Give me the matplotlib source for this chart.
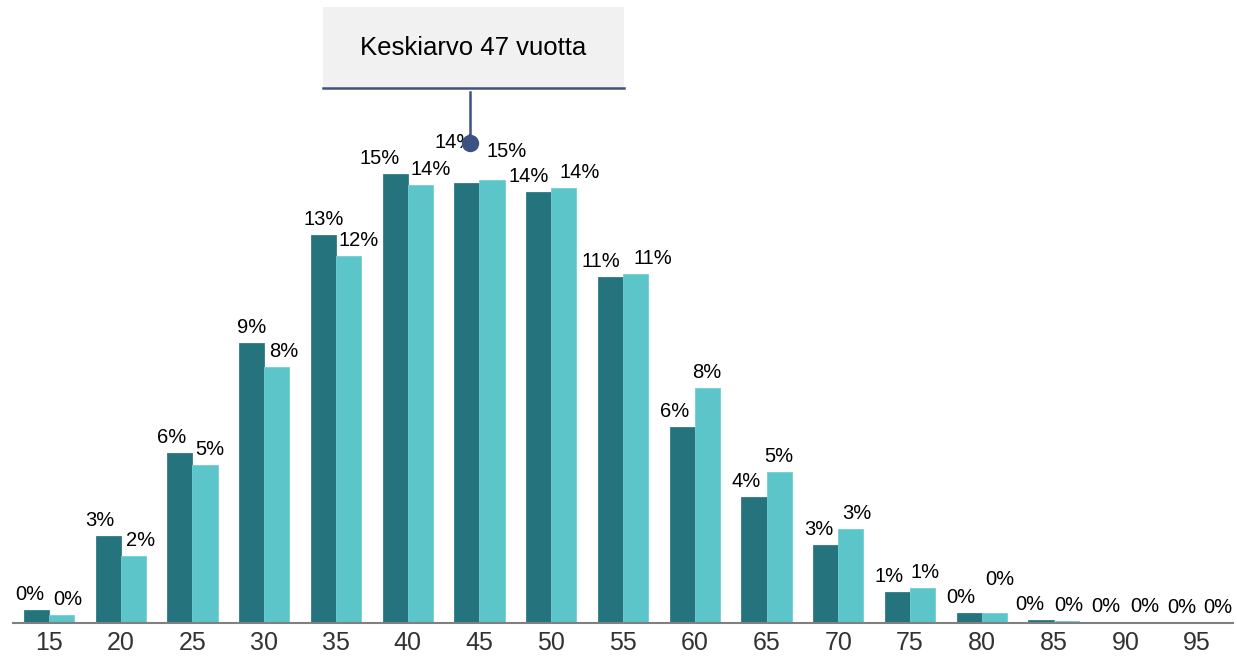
import matplotlib.pyplot as plt
import numpy as np

plt.rcParams['font.family'] = ['Liberation Sans', 'DejaVu Sans']

ages = ['15', '20', '25', '30', '35', '40', '45', '50', '55', '60', '65', '70', '75', '80', '85', '90', '95']
series_a = [0.43, 2.86, 5.58, 9.20, 12.74, 14.76, 14.45, 14.15, 11.36, 6.44, 4.14, 2.56, 1.02, 0.33, 0.10, 0.03, 0.01]
series_b = [0.26, 2.20, 5.19, 8.41, 12.05, 14.38, 14.56, 14.29, 11.46, 7.72, 4.96, 3.09, 1.15, 0.33, 0.08, 0.02, 0.01]
mean_label = 'Keskiarvo 47 vuotta'

dark = '#24737d'
light = '#5bc5ca'
navy = '#3b5283'

# label nudges in pixels (the original labels were shifted to dodge each other)
dx_a = [-7, -8, -8, 0, 0, -16, -12, -10, -10, -8, -8, -7, -8, -8, -11, -7, -3]
dx_b = [6, 7, 5, 7, 10, 10, 15, 16, 17, -1, 0, 6, 2, 5, 3, 7, 8]
dy_a = {6: 25}
dy_b = {6: 13, 13: 18}

fig = plt.figure(figsize=(12.37, 6.59), dpi=100)
ax = fig.add_axes([13 / 1237, 1 - 623 / 659, 1220 / 1237, 623 / 659])

x = np.arange(len(ages))
w = 0.35
ax.bar(x - w / 2, series_a, w, color=dark, edgecolor='#2f7c86', linewidth=0.6)
ax.bar(x + w / 2, series_b, w, color=light, edgecolor='#72d0d4', linewidth=0.6)

for i in range(len(ages)):
    ax.annotate(f'{round(series_a[i])}%', (x[i] - w / 2, series_a[i]),
                xytext=(dx_a[i], 10 + dy_a.get(i, 0)), textcoords='offset pixels',
                ha='center', va='baseline', fontsize=14.5, color='black')
    ax.annotate(f'{round(series_b[i])}%', (x[i] + w / 2, series_b[i]),
                xytext=(dx_b[i], 10 + dy_b.get(i, 0)), textcoords='offset pixels',
                ha='center', va='baseline', fontsize=14.5, color='black')

ax.set_xlim(-0.5, len(ages) - 0.5)
ax.set_ylim(0, 623 / 30.45)
ax.set_xticks(x)
ax.set_xticklabels(ages, fontsize=18, color='#333333')
ax.tick_params(axis='x', length=0, pad=6)
ax.set_yticks([])
for s in ['top', 'right', 'left']:
    ax.spines[s].set_visible(False)
ax.spines['bottom'].set_color('#808080')
ax.spines['bottom'].set_linewidth(1.5)

# mean callout
mx, my = 5.87, 15.75
ax.plot([mx, mx], [my, 17.45], color=navy, lw=1.8, zorder=5)
ax.plot(mx, my, 'o', color=navy, ms=11.5, zorder=6)
fig.patches.append(plt.Rectangle((323 / 1237, 1 - 88 / 659), 301 / 1237, 81 / 659,
                                 transform=fig.transFigure, facecolor='#f1f1f1', edgecolor='none'))
fig.lines.append(plt.Line2D([323 / 1237, 624 / 1237], [1 - 88 / 659] * 2,
                            transform=fig.transFigure, color=navy, lw=1.8))
fig.text(473 / 1237, 1 - 48 / 659, mean_label, ha='center', va='center', fontsize=18.5, color='black')

fig.savefig('out.png', dpi=100)
